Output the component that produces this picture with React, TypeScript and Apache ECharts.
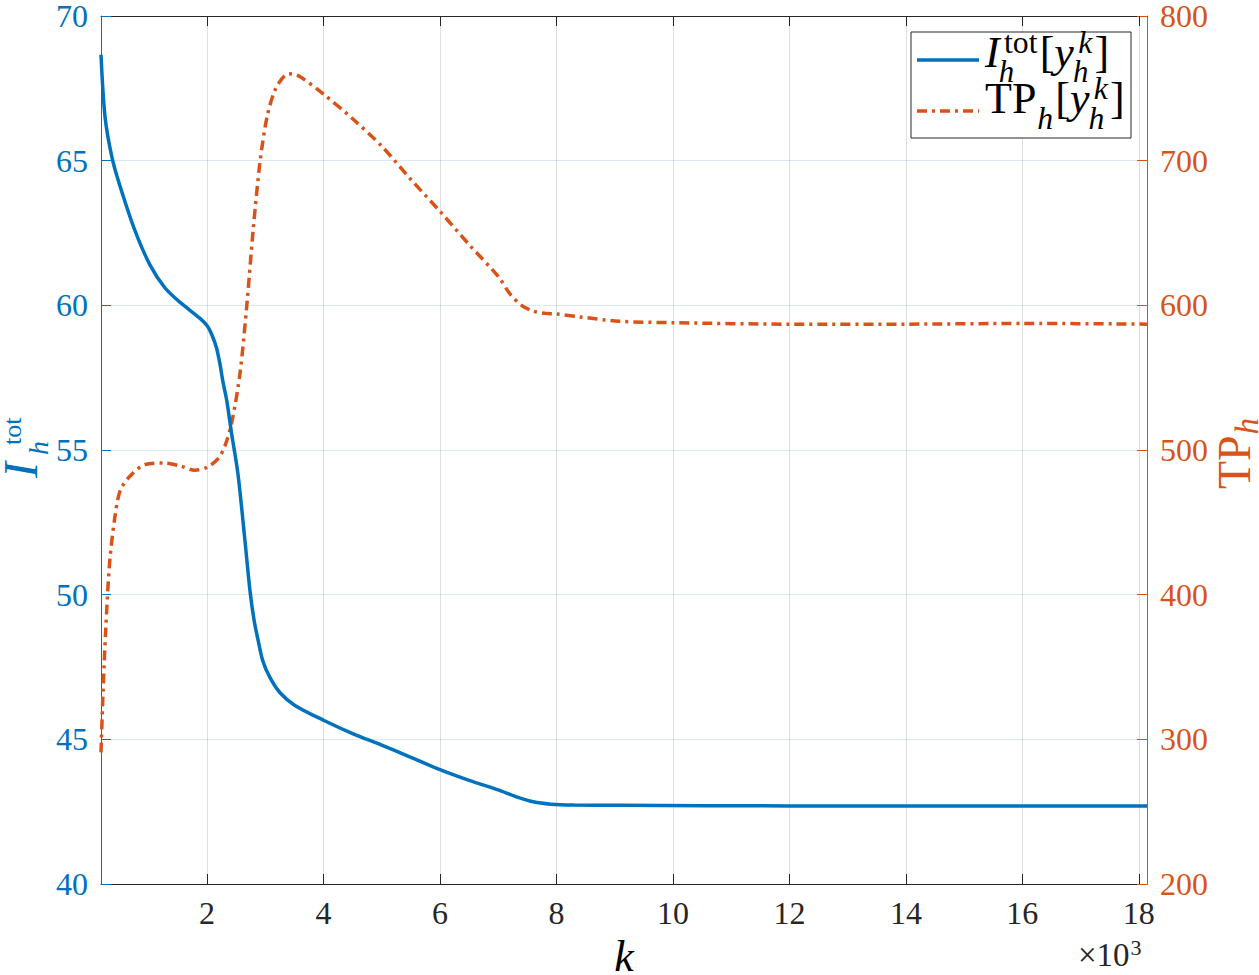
import React, { useEffect, useRef } from "react";
import * as echarts from "echarts";

// ---- data (k in units of 10^3) ----
const xTicks = [2, 4, 6, 8, 10, 12, 14, 16, 18];
const kI = [0.18, 0.25, 0.37, 0.51, 0.76, 1.02, 1.28, 1.54, 1.88, 2.0, 2.08, 2.16, 2.22, 2.27, 2.34, 2.42, 2.53, 2.65, 2.74, 2.81, 2.88, 2.96, 3.08, 3.25, 3.51, 4.0, 4.5, 5.0, 5.5, 6.0, 6.5, 7.0, 7.3, 7.6, 7.9, 8.3, 9.09, 12, 15, 18.14];
const iTot = [68.66, 66.5, 65.1, 64.1, 62.6, 61.4, 60.6, 60.1, 59.55, 59.3, 59.0, 58.55, 58.0, 57.4, 56.7, 55.6, 54.2, 51.9, 50.1, 49.1, 48.4, 47.7, 47.14, 46.62, 46.17, 45.66, 45.2, 44.8, 44.38, 43.95, 43.58, 43.25, 43.02, 42.84, 42.76, 42.73, 42.72, 42.7, 42.7, 42.7];
const kTP = [0.18, 0.21, 0.26, 0.33, 0.42, 0.51, 0.68, 0.94, 1.28, 1.54, 1.79, 2.0, 2.19, 2.31, 2.43, 2.57, 2.69, 2.79, 2.91, 3.03, 3.17, 3.34, 3.46, 3.6, 4.0, 4.5, 5.0, 5.5, 6.0, 6.5, 7.0, 7.2, 7.4, 7.6, 7.8, 8.0, 8.4, 9.08, 10, 12, 14, 16, 18.14];
const tpVals = [291, 327, 375, 423, 454, 472, 482, 490, 491, 489, 486, 488, 494, 503, 520, 554, 603, 651, 699, 730, 749, 759, 760, 758, 746, 729, 710, 687, 665, 642, 620, 608, 600, 596, 594.5, 594, 592, 589, 588, 587, 587, 587.5, 587];

const BLUE = "#0072BD";
const ORANGE = "#D95319";
const DARK = "#262626";
const FONT = "Liberation Serif";

let mctx: CanvasRenderingContext2D | null = null;
function measure(t: string, size: number, it?: boolean) {
  if (!mctx) mctx = document.createElement("canvas").getContext("2d");
  mctx!.font = `${it ? "italic " : ""}${size}px "${FONT}"`;
  return mctx!.measureText(t).width;
}

function txt(t: string, x: number, baseline: number, size: number, color: string, it?: boolean, align = "left") {
  return {
    type: "text",
    x,
    y: baseline - 0.34 * size,
    z: 100,
    silent: true,
    style: {
      text: t,
      fontSize: size,
      fontFamily: FONT,
      fontStyle: it ? "italic" : "normal",
      fill: color,
      textAlign: align,
      align,
      textVerticalAlign: "middle",
      verticalAlign: "middle",
    },
  };
}

type Atom = { t: string; it?: boolean; sup?: string; supIt?: boolean; sub?: string; subIt?: boolean };
type MOpt = { s: number; subS: number; rise: number; drop: number };

function mathText(atoms: Atom[], F: number, color: string, x0: number, baseline: number, o: MOpt) {
  const out: any[] = [];
  let x = x0;
  for (const a of atoms) {
    const w = measure(a.t, F, a.it);
    out.push(txt(a.t, x, baseline, F, color, a.it));
    let adv = w;
    if (a.sup || a.sub) {
      let ws = 0;
      let wb = 0;
      if (a.sup) {
        const fs = F * o.s;
        const off = a.it ? 0.1 * F : 0.03 * F;
        out.push(txt(a.sup, x + w + off, baseline - o.rise * F, fs, color, a.supIt));
        ws = off + measure(a.sup, fs, a.supIt);
      }
      if (a.sub) {
        const fs = F * o.subS;
        const off = a.it ? -0.02 * F : 0.02 * F;
        out.push(txt(a.sub, x + w + off, baseline + o.drop * F, fs, color, a.subIt));
        wb = off + measure(a.sub, fs, a.subIt);
      }
      adv = w + Math.max(ws, wb) + 0.05 * F;
    }
    x += adv;
  }
  return out;
}

const tickFont = 32;
function tickLabel(color: string, margin: number, extra: any = {}) {
  return {
    fontSize: tickFont,
    fontFamily: FONT,
    color,
    margin,
    formatter: "{n|{value}}",
    rich: { n: { fontSize: tickFont, fontFamily: FONT, color } },
    ...extra,
  };
}

export default function App() {
  const ref = useRef<HTMLDivElement>(null);
  useEffect(() => {
    const chart = echarts.init(ref.current!, null, { renderer: "svg" });

    const legendF = 44;
    const row1 = mathText(
      [
        { t: "I", it: true, sup: "tot", sub: "h", subIt: true },
        { t: "[" },
        { t: "y", it: true, sup: "k", supIt: true, sub: "h", subIt: true },
        { t: "]" },
      ],
      legendF, "#000", 985, 67, { s: 0.72, subS: 0.7, rise: 0.32, drop: 0.36 }
    );
    const row2 = mathText(
      [
        { t: "TP", sub: "h", subIt: true },
        { t: "[" },
        { t: "y", it: true, sup: "k", supIt: true, sub: "h", subIt: true },
        { t: "]" },
      ],
      legendF, "#000", 985, 113, { s: 0.72, subS: 0.72, rise: 0.32, drop: 0.36 }
    );

    // left axis name I_h^tot (rotated, local coords: x along text, y toward screen right)
    const leftName = [
      txt("I", 4, 0, 48, BLUE, true),
      txt("tot", 37, -16, 26, BLUE, false),
      txt("h", 27, 11, 28, BLUE, true),
    ];
    const rightName = mathText([{ t: "TP", sub: "h", subIt: true }], 46, ORANGE, 0, 0, { s: 0.7, subS: 0.72, rise: 0.4, drop: 0.16 });

    const option: any = {
      animation: false,
      backgroundColor: "#ffffff",
      textStyle: { fontFamily: FONT },
      grid: { left: 101, right: 112, top: 14, bottom: 91, containLabel: false },
      xAxis: [
        {
          type: "value",
          position: "bottom",
          min: 0.18,
          max: 18.14,
          axisLine: { show: true, lineStyle: { color: DARK, width: 1 } },
          axisTick: { show: true, inside: true, length: 10, customValues: xTicks, lineStyle: { color: DARK } },
          axisLabel: tickLabel(DARK, 13, { customValues: xTicks }),
          splitLine: { show: true, lineStyle: { color: "rgba(38,38,38,0.15)", width: 1 } },
        },
        {
          type: "value",
          position: "top",
          min: 0.18,
          max: 18.14,
          axisLine: { show: true, lineStyle: { color: DARK, width: 1 } },
          axisTick: { show: true, inside: true, length: 10, customValues: xTicks, lineStyle: { color: DARK } },
          axisLabel: { show: false },
          splitLine: { show: false },
        },
      ],
      yAxis: [
        {
          type: "value",
          position: "left",
          min: 40,
          max: 70,
          interval: 5,
          axisLine: { show: true, lineStyle: { color: BLUE, width: 1 } },
          axisTick: { show: true, inside: true, length: 10, lineStyle: { color: BLUE } },
          axisLabel: tickLabel(BLUE, 13),
          splitLine: { show: true, lineStyle: { color: "rgba(0,114,189,0.15)", width: 1 } },
        },
        {
          type: "value",
          position: "right",
          min: 200,
          max: 800,
          interval: 100,
          axisLine: { show: true, lineStyle: { color: ORANGE, width: 1 } },
          axisTick: { show: true, inside: true, length: 10, lineStyle: { color: ORANGE } },
          axisLabel: tickLabel(ORANGE, 13),
          splitLine: { show: false },
        },
      ],
      series: [
        {
          name: "TP",
          type: "line",
          xAxisIndex: 0,
          yAxisIndex: 1,
          data: kTP.map((k, i) => [k, tpVals[i]]),
          showSymbol: false,
          smooth: 0.3,
          lineStyle: { color: ORANGE, width: 3.5, type: [10, 5, 3, 5] },
          itemStyle: { color: ORANGE },
          z: 2,
        },
        {
          name: "Itot",
          type: "line",
          xAxisIndex: 0,
          yAxisIndex: 0,
          data: kI.map((k, i) => [k, iTot[i]]),
          showSymbol: false,
          smooth: 0.3,
          lineStyle: { color: BLUE, width: 3.5 },
          itemStyle: { color: BLUE },
          z: 3,
        },
      ],
      graphic: {
        elements: [
          {
            type: "rect",
            shape: { x: 911, y: 32, width: 220, height: 106 },
            style: { fill: "#ffffff", stroke: DARK, lineWidth: 1 },
            z: 99,
            silent: true,
          },
          {
            type: "line",
            shape: { x1: 917, y1: 60, x2: 979, y2: 60 },
            style: { stroke: BLUE, lineWidth: 3.5 },
            z: 100,
            silent: true,
          },
          {
            type: "line",
            shape: { x1: 917, y1: 111, x2: 979, y2: 111 },
            style: { stroke: ORANGE, lineWidth: 3.5, lineDash: [10, 5, 3, 5] },
            z: 100,
            silent: true,
          },
          ...row1,
          ...row2,
          { type: "group", x: 37, y: 482, rotation: Math.PI / 2, children: leftName, z: 100 },
          { type: "group", x: 1250, y: 489, rotation: Math.PI / 2, children: rightName, z: 100 },
          txt("k", 624, 971, 44, "#000", true, "center"),
          txt("\u00d710", 1078, 966, 33, DARK),
          txt("3", 1078 + measure("\u00d710", 33) + 1, 955, 22, DARK),
        ],
      },
    };
    chart.setOption(option);
    return () => chart.dispose();
  }, []);
  return <div ref={ref} style={{ position: "absolute", left: 0, top: 0, width: 1259, height: 975 }} />;
}
